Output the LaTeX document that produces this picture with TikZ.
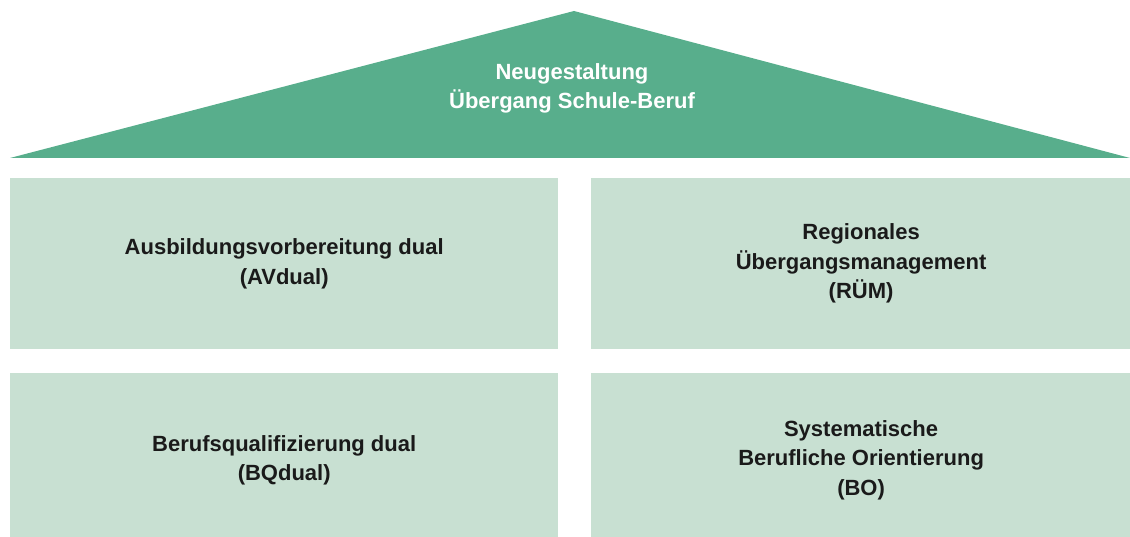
\documentclass[tikz,border=0pt]{standalone}
\usepackage{fontspec}
\setmainfont{Liberation Sans}
\usepackage{tikz}
\usetikzlibrary{positioning}

\definecolor{RoofGreen}{HTML}{58AE8C}
\definecolor{PillarGreen}{HTML}{C8E0D2}
\definecolor{PillarText}{HTML}{1A1A1A}

\begin{document}
\begin{tikzpicture}[x=1pt,y=1pt,node distance=23pt and 32pt,
                    basenode/.style={inner sep=0pt,align=center,font={\bfseries\fontsize{22}{29.5}\selectfont}},
                    pillar/.style={basenode,rectangle,fill=PillarGreen,text=PillarText,minimum width=548pt,minimum height=171pt},
                    lowpillar/.style={pillar,minimum height=175pt},
                    rooftext/.style={basenode,text=white,font={\bfseries\fontsize{22}{29}\selectfont}}]
  \useasboundingbox (0,0) rectangle (1130,537);
  % roof
  \coordinate (roof-left) at (10,379);
  \coordinate (roof-top) at (574,526);
  \coordinate (roof-right) at (1130,379);
  \fill[RoofGreen] (roof-left) -- (roof-top) -- (roof-right) -- cycle;
  \node[rooftext] (roof) at (572,449) {Neugestaltung\\Übergang Schule-Beruf};
  % pillars
  \node[pillar,anchor=north west] (av-dual) at (10,359) {Ausbildungsvorbereitung dual\\(AVdual)};
  \node[pillar,minimum width=541pt] (ruem) [right=of av-dual] {Regionales\\Übergangsmanagement\\(RÜM)};
  \node[lowpillar] (bq-dual) [below=of av-dual] {Berufsqualifizierung dual\\(BQdual)};
  \node[lowpillar,minimum width=541pt] (bo) [right=of bq-dual] {Systematische\\Berufliche Orientierung\\(BO)};
\end{tikzpicture}
\end{document}
